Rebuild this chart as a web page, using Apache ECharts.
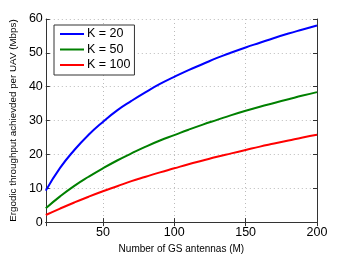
<!DOCTYPE html>
<html><head><meta charset="utf-8">
<script src="https://cdn.jsdelivr.net/npm/echarts@6/dist/echarts.min.js"></script>
<style>html,body{margin:0;padding:0;background:#fff}#c{width:349px;height:259px}</style>
</head><body><div id="c"></div>
<script>
const M = [10,20,30,40,50,60,70,80,90,100,110,120,130,140,150,160,170,180,190,200];
const K20 = [9.3,16.0,21.3,25.8,29.6,33.0,35.8,38.4,40.8,42.9,44.9,46.7,48.5,50.1,51.6,53.0,54.4,55.7,56.9,58.1];
const K50 = [4.1,7.6,10.7,13.4,15.9,18.2,20.3,22.3,24.1,25.7,27.3,28.8,30.2,31.6,32.9,34.1,35.2,36.3,37.4,38.4];
const K100 = [2.1,4.0,5.8,7.5,9.1,10.6,12.1,13.4,14.7,15.9,17.1,18.2,19.3,20.3,21.3,22.3,23.2,24.1,25.0,25.8];
const seriesNames = ['K = 20','K = 50','K = 100'];
const colors = ['#0000ff','#008000','#ff0000'];
const xName = 'Number of GS antennas (M)';
const yName = 'Ergodic throughput achievded per UAV (Mbps)';

const font = 'Liberation Sans, Arial, Helvetica, sans-serif';
const pair = (ys) => M.map((m,i)=>[m, ys[i]]);
const axisLineStyle = {color:'#333', width:1};
const split = {show:true, lineStyle:{color:'#bbb', type:[1,3], width:1}};
const chart = echarts.init(document.getElementById('c'), null, {renderer:'canvas'});
chart.setOption({
  animation:false,
  backgroundColor:'#fff',
  grid:{left:45, right:32, top:19, bottom:29, containLabel:false},
  legend:{
    orient:'vertical', left:54, top:25,
    data: seriesNames.map(n=>({name:n, icon:'rect'})),
    backgroundColor:'#fff', borderColor:'#333', borderWidth:1,
    padding:[2,4,3,6], itemGap:1.5, itemWidth:24, itemHeight:2,
    textStyle:{fontFamily:font, fontSize:12.5, color:'#000', padding:[0,0,0,-2], lineHeight:14}
  },
  xAxis:[
    {type:'value', min:10, max:200, splitNumber:4, position:'bottom',
     name:xName, nameLocation:'middle', nameGap:16,
     nameTextStyle:{fontFamily:font, fontSize:10, color:'#000'},
     axisLine:{show:true, lineStyle:axisLineStyle},
     axisTick:{show:true, inside:true, length:4, lineStyle:axisLineStyle},
     axisLabel:{showMinLabel:false, fontFamily:font, fontSize:12.5, color:'#000', margin:4},
     splitLine:split},
    {type:'value', min:10, max:200, splitNumber:4, position:'top',
     axisLine:{show:true, lineStyle:axisLineStyle},
     axisTick:{show:true, inside:true, length:4, lineStyle:axisLineStyle},
     axisLabel:{show:false}, splitLine:{show:false}}
  ],
  yAxis:[
    {type:'value', min:0, max:60, interval:10, position:'left',
     name:yName, nameLocation:'middle', nameGap:26,
     nameTextStyle:{fontFamily:font, fontSize:9.8, color:'#000'},
     axisLine:{show:true, lineStyle:axisLineStyle},
     axisTick:{show:true, inside:true, length:4, lineStyle:axisLineStyle},
     axisLabel:{fontFamily:font, fontSize:12.5, color:'#000', margin:3},
     splitLine:split},
    {type:'value', min:0, max:60, interval:10, position:'right',
     axisLine:{show:true, lineStyle:axisLineStyle},
     axisTick:{show:true, inside:true, length:4, lineStyle:axisLineStyle},
     axisLabel:{show:false}, splitLine:{show:false}}
  ],
  series:[K20,K50,K100].map((ys,i)=>({
    name:seriesNames[i], type:'line', data:pair(ys), smooth:true,
    symbol:'none', xAxisIndex:0, yAxisIndex:0,
    lineStyle:{color:colors[i], width:2}, itemStyle:{color:colors[i]}
  }))
});
</script></body></html>
